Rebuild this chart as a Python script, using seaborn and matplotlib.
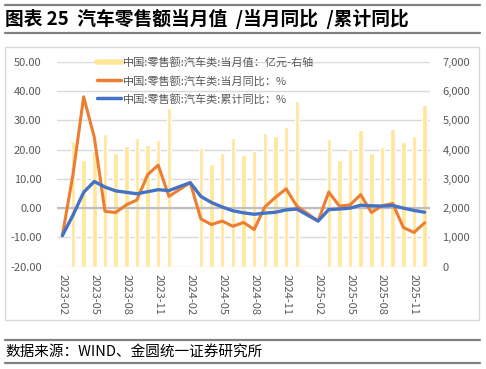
import numpy as np
import pandas as pd
import matplotlib
matplotlib.use("Agg")
import matplotlib.pyplot as plt
from matplotlib.lines import Line2D
from matplotlib.patches import Rectangle
import seaborn as sns

# ---------------- data ----------------
months = [f"{y}-{m:02d}" for y in (2023, 2024, 2025) for m in range(1, 13)][1:]  # 2023-02 .. 2025-12
nan = np.nan
monthly_value = [nan, 4290, 3640, 3950, 4540, 3870, 4120, 4390, 4150, 4335, 5430,
                 nan, nan, 4060, 3515, 3890, 4380, 3825, 3960, 4565, 4470, 4780, 5665,
                 nan, nan, 4350, 3640, 4015, 4655, 3870, 4095, 4710, 4265, 4470, 5510]
monthly_yoy = [-9.4, 11.5, 38.0, 24.2, -1.1, -1.5, 1.1, 2.8, 11.4, 14.7, 4.0,
               nan, 8.7, -3.7, -5.6, -4.4, -6.2, -4.9, -7.3, 0.4, 3.7, 6.6, 0.7,
               nan, -4.4, 5.5, 0.7, 1.1, 4.6, -1.5, 0.8, 1.6, -6.6, -8.3, -5.0]
cum_yoy = [-9.4, -2.4, 5.4, 9.1, 7.2, 5.9, 5.4, 4.9, 5.6, 6.3, 6.0,
           nan, 8.7, 4.0, 1.9, 0.4, -0.9, -1.6, -2.1, -1.7, -1.4, -0.6, -0.3,
           nan, -4.4, -0.5, -0.3, 0.0, 1.0, 0.8, 0.7, 0.9, 0.0, -0.8, -1.4]
tick_labels = months[::3]
left_ticks = [-20, -10, 0, 10, 20, 30, 40, 50]
right_ticks = [0, 1000, 2000, 3000, 4000, 5000, 6000, 7000]
legend_labels = ["中国:零售额:汽车类:当月值：亿元-右轴",
                 "中国:零售额:汽车类:当月同比：%",
                 "中国:零售额:汽车类:累计同比：%"]

BAR_C = "#FFE699"
ORANGE = "#ED7D31"
BLUE = "#4472C4"
GRID = "#D9D9D9"
TXT = "#595959"

df = pd.DataFrame({"month": months, "pos": np.arange(len(months)),
                   "value": monthly_value, "yoy": monthly_yoy, "cum": cum_yoy})

sns.set_theme(style="white")
plt.rcParams["font.family"] = ["Noto Sans CJK SC", "DejaVu Sans"]

W, H = 486, 369
fig = plt.figure(figsize=(W / 100, H / 100), dpi=100)

def fx(px):
    return px / W

def fy(py):
    return 1 - py / H

ax_l, ax_r, ax_t, ax_b = 57, 430, 61.7, 266.7
ax = fig.add_axes([fx(ax_l), fy(ax_b), fx(ax_r - ax_l), (ax_b - ax_t) / H])
ax2 = ax.twinx()

# bars on right axis (behind)
bar_df = df.dropna(subset=["value"])
sns.barplot(data=bar_df, x="pos", y="value", ax=ax2, native_scale=True,
            color=BAR_C, saturation=1, width=0.42, errorbar=None, zorder=2)
ax2.set_ylim(0, 7000)
ax2.set_yticks(right_ticks)
ax2.set_yticklabels([f"{v:,}" for v in right_ticks])
ax2.yaxis.grid(True, color=GRID, lw=1.0, zorder=0)
ax2.set_axisbelow(True)
ax2.set_xlabel("")
ax2.set_ylabel("")

# lines on left axis (front)
ax.set_zorder(ax2.get_zorder() + 1)
ax.patch.set_visible(False)
d1 = df.dropna(subset=["yoy"])
d2 = df.dropna(subset=["cum"])
sns.lineplot(data=d1, x="pos", y="yoy", ax=ax, color=ORANGE, lw=2.2, sort=False, zorder=4)
sns.lineplot(data=d2, x="pos", y="cum", ax=ax, color=BLUE, lw=2.4, sort=False, zorder=5)
ax.axhline(0, color="#BFBFBF", lw=1.6, zorder=1)
ax.set_ylim(-20, 50)
ax.set_yticks(left_ticks)
ax.set_yticklabels([f"{v:.2f}" for v in left_ticks])
ax.set_xlim(-0.5, 34.5)
ax.set_xticks(np.arange(0, len(months), 3))
ax.set_xticklabels(tick_labels, rotation=-90)
ax.set_xlabel("")
ax.set_ylabel("")

for a in (ax, ax2):
    for s in a.spines.values():
        s.set_visible(False)
    a.tick_params(axis="both", length=0, labelsize=8, labelcolor=TXT)
ax.tick_params(axis="y", pad=11)
ax2.tick_params(axis="y", pad=9)
ax.tick_params(axis="x", pad=5, labelsize=8)

handles = [Line2D([], [], color=BAR_C, lw=4),
           Line2D([], [], color=ORANGE, lw=2.5),
           Line2D([], [], color=BLUE, lw=2.5)]
leg = ax.legend(handles, legend_labels, loc="upper left",
                bbox_to_anchor=((97 - ax_l) / (ax_r - ax_l), (ax_b - 57.5) / (ax_b - ax_t)),
                frameon=False, fontsize=8, labelcolor=TXT, handlelength=2.2,
                handletextpad=0.1, borderpad=0, borderaxespad=0, labelspacing=0.65)

# chart frame
fig.patches.append(Rectangle((fx(5), fy(320)), fx(474), (320 - 47) / H,
                             transform=fig.transFigure, fill=False,
                             edgecolor="#D9D9D9", lw=1.0))

# title and rules
for yy in (5, 33, 340, 363):
    fig.add_artist(Line2D([fx(5), fx(480)], [fy(yy), fy(yy)], color="#808080", lw=1.6,
                          transform=fig.transFigure))
fig.text(fx(5), fy(19), "图表 25  汽车零售额当月值  /当月同比  /累计同比",
         fontsize=13.5, fontweight="bold", color="black", va="center", ha="left")
fig.text(fx(5), fy(352), "数据来源：WIND、金圆统一证券研究所",
         fontsize=10.5, color="black", va="center", ha="left")

fig.savefig("out.png", dpi=100)
